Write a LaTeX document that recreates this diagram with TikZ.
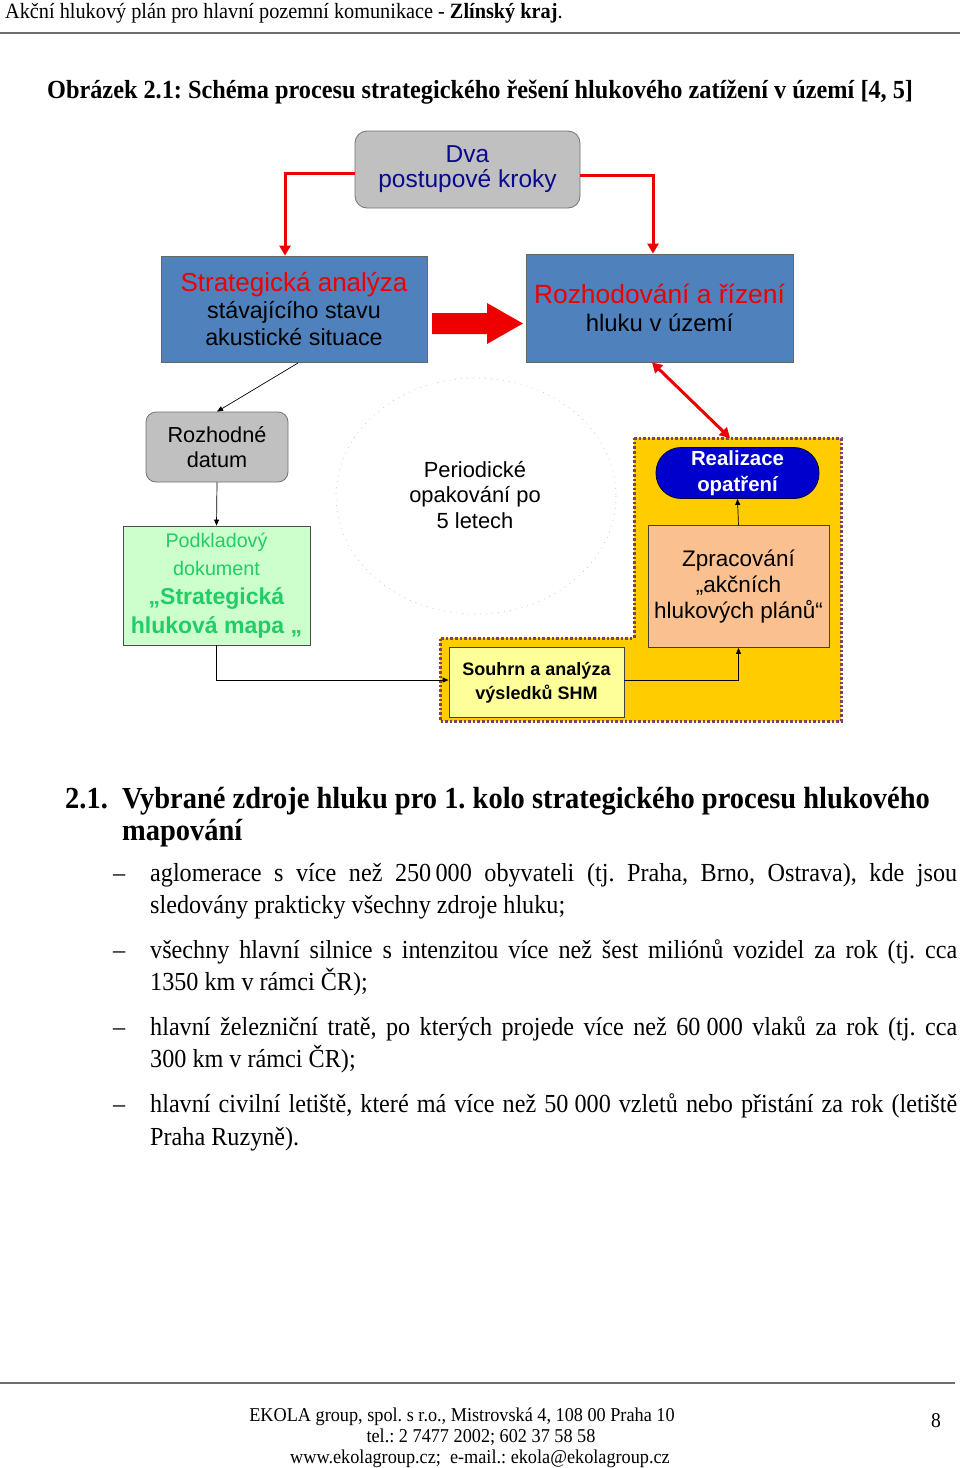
\documentclass[tikz,border=0pt]{standalone}
\usepackage{fontspec}
\setmainfont{Liberation Serif}[FakeStretch=0.93]
\newfontfamily\diag{Liberation Sans}
\usetikzlibrary{arrows.meta}
\frenchspacing
\definecolor{boxblue}{HTML}{4F81BD}
\definecolor{boxgray}{HTML}{C0C0C0}
\definecolor{navytxt}{HTML}{0A0A8C}
\definecolor{redarr}{HTML}{EE0000}
\definecolor{greenfill}{HTML}{CCFFCC}
\definecolor{greentxt}{HTML}{22CC66}
\definecolor{orangefill}{HTML}{FFCC00}
\definecolor{dotpurple}{HTML}{7F3F70}
\definecolor{peach}{HTML}{FAC090}
\definecolor{lightyel}{HTML}{FFFF99}
\definecolor{realblue}{HTML}{0000CC}
\definecolor{rulegray}{HTML}{6E6E6E}
\tikzset{
  dbox/.style={draw=black!75, line width=0.8pt, align=center, inner sep=0pt, font=\diag},
  redcon/.style={draw=redarr, line width=3pt, -{Triangle[length=10pt,width=11pt]}},
  thincon/.style={draw=black, line width=0.7pt, -{Triangle[length=6pt,width=5pt]}},
  bodyln/.style={anchor=base west, inner sep=0pt, font=\fontsize{26}{30}\selectfont},
  footln/.style={anchor=base, inner sep=0pt, font=\fontsize{19.6}{22}\selectfont}
}
\begin{document}
\begin{tikzpicture}[x=1pt,y=-1pt]
\useasboundingbox[fill=white] (0,0) rectangle (960,1468);

% header
\node[anchor=base west, inner sep=0pt, font=\fontsize{21.8}{24}\selectfont] (hdr) at (5,18) {Akční hlukový plán pro hlavní pozemní komunikace - \textbf{Zlínský kraj}.};
\coordinate (hl1) at (0,33); \coordinate (hl2) at (960,33);
\draw[rulegray, line width=2pt] (hl1) -- (hl2);

% caption
\node[anchor=base west, inner sep=0pt, font=\fontsize{26.1}{28}\selectfont\bfseries] (cap) at (47,98) {Obrázek 2.1: Schéma procesu strategického řešení hlukového zatížení v území [4, 5]};

% ---------------- diagram ----------------
% orange region
\path[fill=orangefill, draw=dotpurple, line width=3pt, dash pattern=on 2.6pt off 2pt]
  (634,438) -- (841,438) -- (841,721) -- (440,721) -- (440,638) -- (634,638) -- cycle;

% periodic ellipse
\draw[black!22, line width=0.6pt, dash pattern=on 1pt off 5pt] (476,496) ellipse [x radius=140, y radius=118];
\node[font=\diag\fontsize{21.9}{25.5}\selectfont, align=center] (per) at (475,495) {Periodické\\opakování po\\5 letech};

\node[dbox, fill=boxgray, draw=black!55, rounded corners=12pt, minimum width=225pt, minimum height=77pt,
      text=navytxt, font=\diag\fontsize{24.5}{25}\selectfont] (dva) at (467.5,169.5) {Dva\\postupové kroky};

\node[dbox, fill=boxblue, draw=black!60, minimum width=266pt, minimum height=106pt,
      font=\diag\fontsize{23.3}{27}\selectfont] (sa) at (294,309)
      {\textcolor{redarr}{\fontsize{26}{27}\selectfont Strategická analýza}\\stávajícího stavu\\akustické situace};

\node[dbox, fill=boxblue, draw=black!60, minimum width=267pt, minimum height=108pt,
      font=\diag\fontsize{23.9}{28}\selectfont] (rr) at (659.5,308)
      {\textcolor{redarr}{\fontsize{26.4}{28}\selectfont Rozhodování a řízení}\\hluku v území};

\node[dbox, fill=boxgray, draw=black!55, rounded corners=10pt, minimum width=142pt, minimum height=70pt,
      font=\diag\fontsize{21.7}{25.5}\selectfont] (rd) at (217,447) {Rozhodné\\datum};

\node[dbox, fill=greenfill, draw=black!70, minimum width=187pt, minimum height=119pt,
      text=greentxt, font=\diag\fontsize{19.7}{28}\selectfont] (pd) at (216.5,585.5)
      {Podkladový\\dokument\\[1pt]{\bfseries\fontsize{23}{29}\selectfont „Strategická}\\[1pt]{\bfseries\fontsize{23}{29}\selectfont hluková mapa „}};

\node[dbox, fill=realblue, draw=black!80!blue, rounded corners=25pt, minimum width=163pt, minimum height=51pt,
      text=white, font=\diag\bfseries\fontsize{20.4}{25.5}\selectfont] (ro) at (737.5,473) {Realizace\\opatření};

\node[dbox, fill=peach, draw=black!75, minimum width=181pt, minimum height=122pt,
      font=\diag\fontsize{22.5}{26}\selectfont] (zp) at (738.5,586.5) {Zpracování\\„akčních\\hlukových plánů“};

\node[dbox, fill=lightyel, draw=black!75, minimum width=175pt, minimum height=70pt,
      font=\diag\bfseries\fontsize{18}{24}\selectfont] (sh) at (536.5,682.5) {Souhrn a analýza\\výsledků SHM};

% red connectors
\draw[redcon] ([yshift=-4pt]dva.west) -| ([xshift=-9pt]sa.north);
\draw[redcon] ([yshift=-6pt]dva.east) -| ([xshift=-6.5pt]rr.north);

% big block arrow
\fill[redarr] (432,313) -- (487,313) -- (487,303) -- (523,323.5) -- (487,344) -- (487,334) -- (432,334) -- cycle;

% red double arrow
\coordinate (rt) at (730,438);
\draw[draw=redarr, line width=3pt, {Triangle[length=10pt,width=11pt]}-{Triangle[length=10pt,width=11pt]}]
   ([xshift=-7.5pt]rr.south) -- (rt);

% thin connectors
\coordinate (sabot) at (298,363);
\draw[thincon] (sabot) -- (rd.north);
\draw[thincon] (rd.south) -- (pd.north);
\draw[thincon] (pd.south) |- ([yshift=2.5pt]sh.west);
\draw[thincon] ([yshift=2.5pt]sh.east) -| (zp.south);
\draw[thincon] (zp.north) -- (ro.south);

% ---------------- text ----------------
\node[anchor=base west, inner sep=0pt, font=\fontsize{30.6}{33}\selectfont\bfseries] (hn) at (65,808) {2.1.};
\node[anchor=base west, inner sep=0pt, font=\fontsize{30.6}{33}\selectfont\bfseries] (h1) at (122,808) {Vybrané zdroje hluku pro 1. kolo strategického procesu hlukového};
\node[anchor=base west, inner sep=0pt, font=\fontsize{30.6}{33}\selectfont\bfseries] (h2) at (122,840) {mapování};

\node[bodyln] (d1) at (113,881) {–};
\node[bodyln] (a1) at (150,881) {\makebox[807pt][s]{aglomerace s více než \mbox{250\,000} obyvateli (tj. Praha, Brno, Ostrava), kde jsou}};
\node[bodyln] (a2) at (150,913) {sledovány prakticky všechny zdroje hluku;};

\node[bodyln] (d2) at (113,958) {–};
\node[bodyln] (b1) at (150,958) {\makebox[807pt][s]{všechny hlavní silnice s intenzitou více než šest miliónů vozidel za rok (tj. cca}};
\node[bodyln] (b2) at (150,990) {1350 km v rámci ČR);};

\node[bodyln] (d3) at (113,1035) {–};
\node[bodyln] (c1) at (150,1035) {\makebox[807pt][s]{hlavní železniční tratě, po kterých projede více než \mbox{60 000} vlaků za rok (tj. cca}};
\node[bodyln] (c2) at (150,1067) {300 km v rámci ČR);};

\node[bodyln] (d4) at (113,1112) {–};
\node[bodyln] (e1) at (150,1112) {\makebox[807pt][s]{hlavní civilní letiště, které má více než \mbox{50 000} vzletů nebo přistání za rok (letiště}};
\node[bodyln] (e2) at (150,1145) {Praha Ruzyně).};

% footer
\coordinate (fl1) at (0,1383); \coordinate (fl2) at (955,1383);
\draw[rulegray, line width=1.5pt] (fl1) -- (fl2);
\node[footln] (f1) at (462,1421) {EKOLA group, spol. s r.o., Mistrovská 4, 108 00 Praha 10};
\node[footln] (f2) at (481,1442) {tel.: 2 7477 2002; 602 37 58 58};
\node[footln] (f3) at (480,1463) {www.ekolagroup.cz;\ \ e-mail.: ekola@ekolagroup.cz};
\node[anchor=base, inner sep=0pt, font=\fontsize{21}{22}\selectfont] (pg) at (936,1427) {8};
\end{tikzpicture}
\end{document}
